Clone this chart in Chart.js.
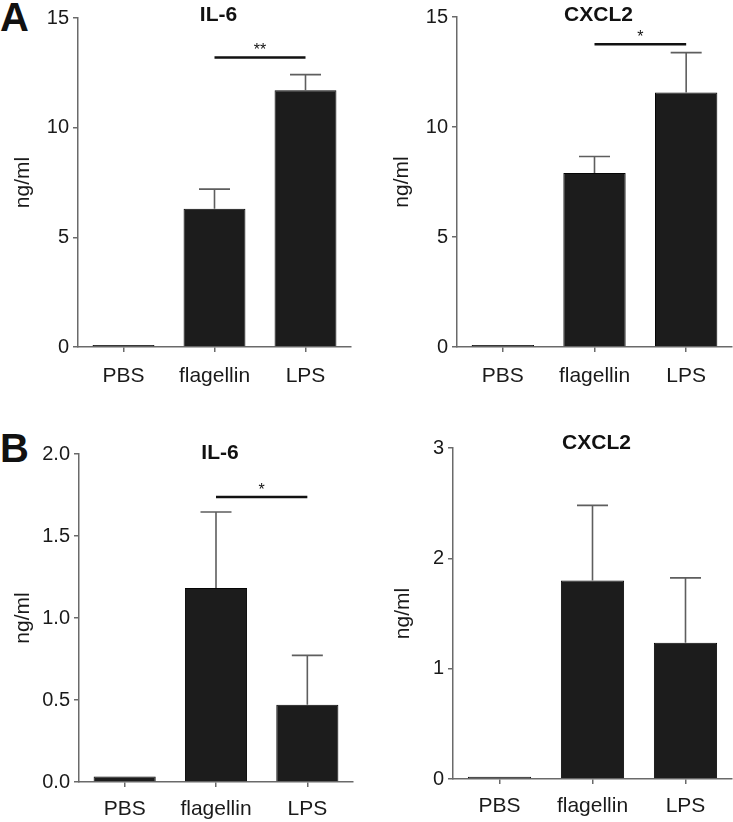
<!DOCTYPE html>
<html>
<head>
<meta charset="utf-8">
<script src="https://cdn.jsdelivr.net/npm/chart.js@4.4.1/dist/chart.umd.min.js"></script>
<style>
body { margin:0; background:#fff; width:733px; height:822px; position:relative; overflow:hidden; font-family:"Liberation Sans", Arial, sans-serif; }
canvas { position:absolute; }
.letter { position:absolute; left:0; font-weight:bold; font-size:40px; line-height:40px; color:#111; }
</style>
</head>
<body>
<div class="letter" style="top:-3px">A</div>
<div class="letter" style="top:428px">B</div>
<canvas id="aIl6" width="360" height="400" style="left:0;top:0"></canvas>
<canvas id="aCxcl2" width="363" height="400" style="left:370px;top:0"></canvas>
<canvas id="bIl6" width="360" height="422" style="left:0;top:400px"></canvas>
<canvas id="bCxcl2" width="363" height="422" style="left:370px;top:400px"></canvas>

<script>
const categories = ['PBS', 'flagellin', 'LPS'];

// panel A
const aIl6 = [0.09, 6.30, 11.71];
const aIl6Err = [0, 0.90, 0.71];
const aIl6Sig = [1, 2, 13.2, '**'];
const aCxcl2 = [0.09, 7.91, 11.57];
const aCxcl2Err = [0, 0.75, 1.81];
const aCxcl2Sig = [1, 2, 13.76, '*'];
const aTicks = [0, 15, 5];

// panel B
const bIl6 = [0.034, 1.183, 0.471];
const bIl6Err = [0, 0.463, 0.301];
const bIl6Sig = [1, 2, 1.738, '*'];
const bIl6Ticks = [0, 2, 0.5];
const bCxcl2 = [0.02, 1.80, 1.235];
const bCxcl2Err = [0, 0.68, 0.588];
const bCxcl2Ticks = [0, 3, 1];

const FONT = '"Liberation Sans", Arial, sans-serif';
const AXIS = '#6a6a6a';
const TEXT = '#1a1a1a';

// error bars, significance bar and panel title
const extras = {
  id: 'extras',
  afterDatasetsDraw(chart, args, opts) {
    const { ctx, chartArea, scales } = chart;
    const x = scales.x, y = scales.y;
    const vals = chart.data.datasets[0].data;
    ctx.save();
    ctx.strokeStyle = '#5e5e5e';
    ctx.lineWidth = 1.6;
    opts.err.forEach((e, i) => {
      if (!e) return;
      const px = x.getPixelForValue(i);
      const y0 = y.getPixelForValue(vals[i]);
      const y1 = y.getPixelForValue(vals[i] + e);
      ctx.beginPath();
      ctx.moveTo(px, y0); ctx.lineTo(px, y1);
      ctx.moveTo(px - 15.5, y1); ctx.lineTo(px + 15.5, y1);
      ctx.stroke();
    });
    if (opts.sig) {
      const [i0, i1, v, label] = opts.sig;
      const sy = y.getPixelForValue(v);
      const x0 = x.getPixelForValue(i0), x1 = x.getPixelForValue(i1);
      ctx.strokeStyle = '#111';
      ctx.lineWidth = 2.4;
      ctx.beginPath();
      ctx.moveTo(x0, sy); ctx.lineTo(x1, sy);
      ctx.stroke();
      ctx.fillStyle = '#111';
      ctx.font = '16px ' + FONT;
      ctx.textAlign = 'center';
      ctx.textBaseline = 'alphabetic';
      ctx.fillText(label, (x0 + x1) / 2, sy - 2);
    }
    ctx.fillStyle = '#111';
    ctx.font = 'bold 21px ' + FONT;
    ctx.textAlign = 'center';
    ctx.textBaseline = 'middle';
    ctx.fillText(opts.title, (chartArea.left + chartArea.right) / 2 + 4, opts.titleY);
    ctx.restore();
  }
};

function makeChart(id, values, err, sig, ticks, cfg) {
  const [tmin, tmax, step] = ticks;
  return new Chart(document.getElementById(id), {
    type: 'bar',
    data: {
      labels: categories,
      datasets: [{
        data: values,
        backgroundColor: '#1c1c1c',
        borderColor: '#050505',
        borderWidth: 1,
        barPercentage: 0.68,
        categoryPercentage: 1
      }]
    },
    plugins: [extras],
    options: {
      responsive: false,
      animation: false,
      layout: { padding: cfg.pad },
      plugins: {
        legend: { display: false },
        tooltip: { enabled: false },
        extras: { err: err, sig: sig, title: cfg.title, titleY: cfg.titleY }
      },
      scales: {
        x: {
          grid: { display: true, drawOnChartArea: false, offset: false, tickLength: 5, color: AXIS, lineWidth: 1.5 },
          border: { color: AXIS, width: 1.5 },
          ticks: { color: TEXT, font: { family: FONT, size: 21 }, padding: cfg.xpad },
          afterFit: s => { s.height = cfg.xh; }
        },
        y: {
          min: tmin, max: tmax,
          grid: { drawOnChartArea: false, tickLength: 5, color: AXIS, lineWidth: 1.5 },
          border: { color: AXIS, width: 1.5 },
          ticks: {
            stepSize: step, color: TEXT, font: { family: FONT, size: 20 }, padding: 4,
            callback: v => step < 1 ? v.toFixed(1) : v
          },
          title: { display: true, text: 'ng/ml', color: TEXT, font: { family: FONT, size: 21 }, padding: { top: cfg.tpad, bottom: 0 } },
          afterFit: s => { s.width = cfg.yw; }
        }
      }
    }
  });
}

makeChart('aIl6', aIl6, aIl6Err, aIl6Sig, aTicks,
  { pad: { top: 18, right: 9, left: 0, bottom: 0 }, yw: 78, xh: 53, xpad: 12, tpad: 11, title: 'IL-6', titleY: 15.5 });
makeChart('aCxcl2', aCxcl2, aCxcl2Err, aCxcl2Sig, aTicks,
  { pad: { top: 17, right: 1, left: 0, bottom: 0 }, yw: 87, xh: 53, xpad: 12, tpad: 20, title: 'CXCL2', titleY: 15.5 });
makeChart('bIl6', bIl6, bIl6Err, bIl6Sig, bIl6Ticks,
  { pad: { top: 54, right: 7, left: 0, bottom: 0 }, yw: 79, xh: 40, xpad: 10, tpad: 11, title: 'IL-6', titleY: 53 });
makeChart('bCxcl2', bCxcl2, bCxcl2Err, null, bCxcl2Ticks,
  { pad: { top: 48, right: 1, left: 0, bottom: 0 }, yw: 83, xh: 43, xpad: 10, tpad: 21, title: 'CXCL2', titleY: 43 });
</script>
</body>
</html>
